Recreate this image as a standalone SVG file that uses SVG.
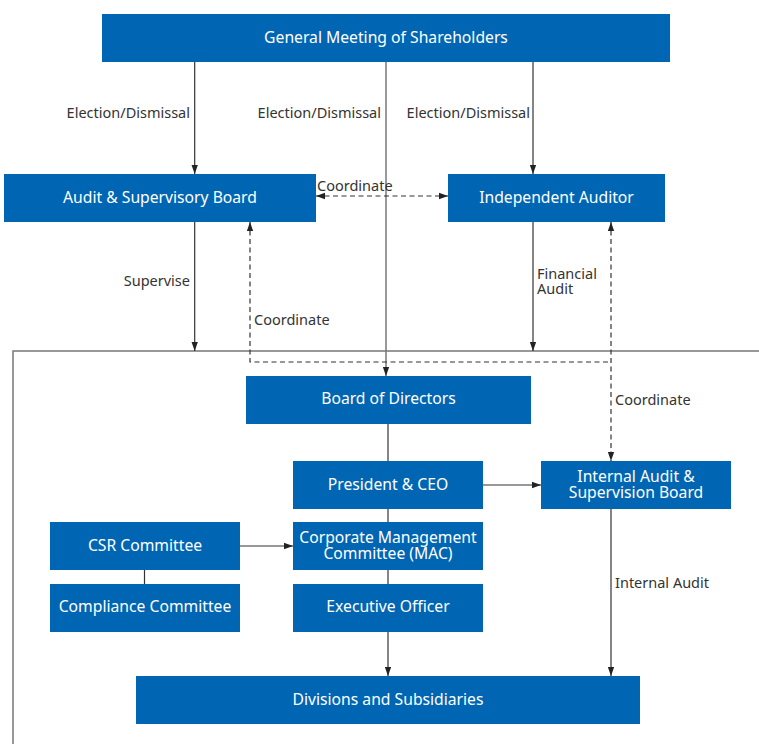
<svg xmlns="http://www.w3.org/2000/svg" width="759" height="744" viewBox="0 0 759 744">
<style>
.box{fill:#0066b3}
.t{fill:#fff;font-family:"Noto Sans","Open Sans",sans-serif;font-size:15.7px;text-anchor:middle}
.l{fill:#333;font-family:"Noto Sans","Open Sans",sans-serif;font-size:14.5px}
.c{stroke:#333;stroke-width:1.2;fill:none}
.g{stroke:#777;stroke-width:1.5;fill:none}
.d{stroke:#333;stroke-width:1.2;fill:none;stroke-dasharray:5 3.5}
</style>
<defs>
<marker id="a" viewBox="0 0 10 10" refX="10" refY="5" markerWidth="9" markerHeight="9" markerUnits="userSpaceOnUse" orient="auto-start-reverse">
<path d="M0,1.5 L10,5 L0,8.5 Z" fill="#222"/>
</marker>
</defs>
<g id="frame">
<path class="g" d="M13,744 V351 H759"/>
</g>
<g id="connectors">
<path class="c" d="M194.7,62 V174" marker-end="url(#a)"/>
<path class="g" d="M386,62 V376" marker-end="url(#a)"/>
<path class="c" d="M533,62 V174" marker-end="url(#a)"/>
<path class="d" d="M316,196 H448" marker-start="url(#a)" marker-end="url(#a)"/>
<path class="c" d="M194.7,222 V351" marker-end="url(#a)"/>
<path class="c" d="M533,222 V351" marker-end="url(#a)"/>
<path class="d" d="M250,222 V362 H611" marker-start="url(#a)"/>
<path class="d" d="M611,222 V461" marker-start="url(#a)" marker-end="url(#a)"/>
<path class="c" d="M388,424 V676" marker-end="url(#a)"/>
<path class="c" d="M483,485 H541" marker-end="url(#a)"/>
<path class="c" d="M240,546 H293" marker-end="url(#a)"/>
<path class="c" d="M144.5,570 V584"/>
<path class="c" d="M611,509 V676" marker-end="url(#a)"/>
<text class="l" x="190" y="118" text-anchor="end">Election/Dismissal</text>
<text class="l" x="381" y="118" text-anchor="end">Election/Dismissal</text>
<text class="l" x="530" y="118" text-anchor="end">Election/Dismissal</text>
<text class="l" x="317" y="191">Coordinate</text>
<text class="l" x="190" y="286" text-anchor="end">Supervise</text>
<text class="l" x="254" y="325">Coordinate</text>
<text class="l" x="537" y="279">Financial</text>
<text class="l" x="537" y="294">Audit</text>
<text class="l" x="615" y="405">Coordinate</text>
<text class="l" x="615" y="588">Internal Audit</text>
</g>
<g id="gms"><rect class="box" x="102" y="14" width="568" height="48"/><text class="t" x="386" y="42.5">General Meeting of Shareholders</text></g>
<g id="asb"><rect class="box" x="4" y="174" width="312" height="48"/><text class="t" x="160" y="202.5">Audit &amp; Supervisory Board</text></g>
<g id="ia"><rect class="box" x="448" y="174" width="217" height="48"/><text class="t" x="556.5" y="202.5">Independent Auditor</text></g>
<g id="bod"><rect class="box" x="246" y="376" width="285" height="48"/><text class="t" x="388.5" y="404">Board of Directors</text></g>
<g id="ceo"><rect class="box" x="293" y="461" width="190" height="48"/><text class="t" x="388" y="490">President &amp; CEO</text></g>
<g id="iasb"><rect class="box" x="541" y="461" width="190" height="48"/><text class="t" x="636" y="482">Internal Audit &amp;</text><text class="t" x="636" y="498">Supervision Board</text></g>
<g id="mac"><rect class="box" x="293" y="522" width="190" height="48"/><text class="t" x="388" y="543">Corporate Management</text><text class="t" x="388" y="559">Committee (MAC)</text></g>
<g id="csr"><rect class="box" x="50" y="522" width="190" height="48"/><text class="t" x="145" y="551">CSR Committee</text></g>
<g id="exec"><rect class="box" x="293" y="584" width="190" height="48"/><text class="t" x="388" y="612">Executive Officer</text></g>
<g id="comp"><rect class="box" x="50" y="584" width="190" height="48"/><text class="t" x="145" y="612">Compliance Committee</text></g>
<g id="div"><rect class="box" x="136" y="676" width="504" height="48"/><text class="t" x="388" y="705">Divisions and Subsidiaries</text></g>
</svg>
